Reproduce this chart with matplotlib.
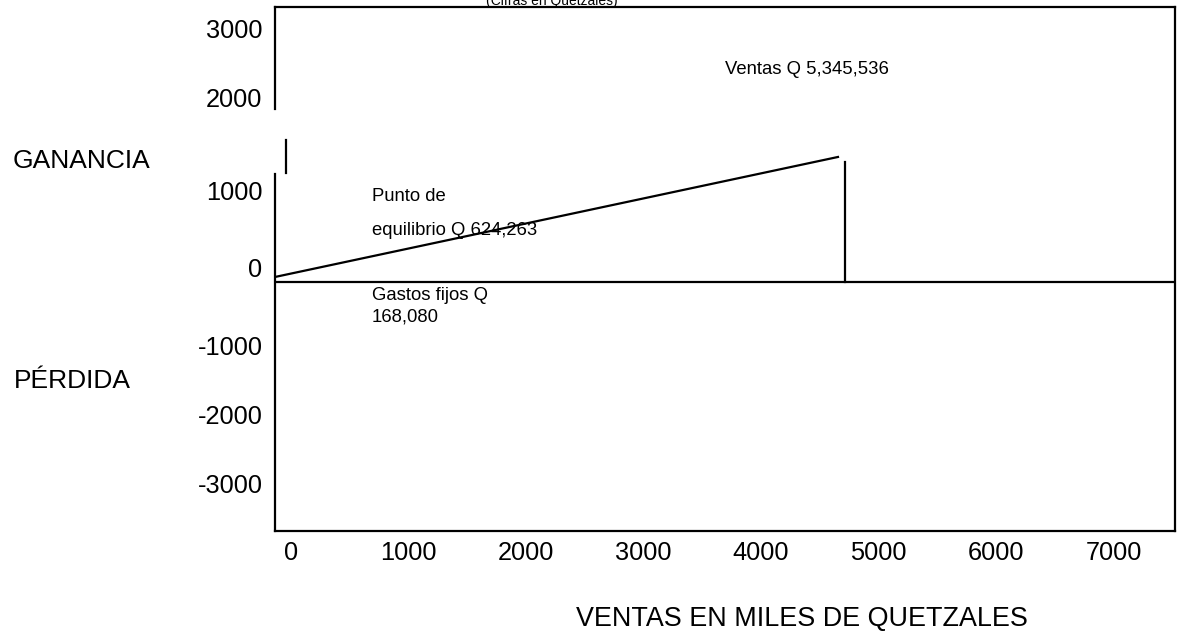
import matplotlib.pyplot as plt

plt.rcParams['font.family'] = ['Liberation Sans', 'DejaVu Sans']

# Data (miles de quetzales)
x_ticks = [0, 1000, 2000, 3000, 4000, 5000, 6000, 7000]
y_tick_labels = ["3000", "2000", "1000", "0", "-1000", "-2000", "-3000"]
y_tick_pos = [3340, 2430, 1210, 185, -830, -1740, -2650]   # hand-placed in the original

profit_x = [-136, 4655]
profit_y = [66, 1645]
ventas_x = 4715
ventas_top = 1579
base_y = 0

xlim = (-136, 7523)
ylim = (-3276, 3618)

W, H = 1177, 632
fig = plt.figure(figsize=(W / 100, H / 100), dpi=100)
ax = fig.add_axes([275 / W, 1 - 531 / H, 900 / W, 524 / H])
ax.set_xlim(*xlim)
ax.set_ylim(*ylim)

for s in ['top', 'right', 'bottom']:
    ax.spines[s].set_linewidth(1.6)
ax.spines['left'].set_visible(False)

# broken left axis, as in the original drawing
lw = 1.6
ax.plot([xlim[0], xlim[0]], [ylim[1], 2276], color='black', lw=lw, clip_on=False)
ax.plot([-42, -42], [1868, 1434], color='black', lw=lw, clip_on=False)
ax.plot([xlim[0], xlim[0]], [1421, ylim[0]], color='black', lw=lw, clip_on=False)

# lines
ax.plot(xlim, [base_y, base_y], color='black', lw=lw)
ax.plot(profit_x, profit_y, color='black', lw=lw)
ax.plot([ventas_x, ventas_x], [base_y, ventas_top], color='black', lw=lw)

ax.set_xticks(x_ticks, [str(v) for v in x_ticks])
ax.set_yticks(y_tick_pos, y_tick_labels)
ax.tick_params(axis='x', length=0, pad=7, labelsize=18.3)
ax.tick_params(axis='y', length=0, pad=9, labelsize=18.3)

# annotations
small = 13.3
ax.text(3693, 2737, "Ventas Q 5,345,536", fontsize=small, va='baseline')
ax.text(690, 1066, "Punto de", fontsize=small, va='baseline')
ax.text(690, 618, "equilibrio Q 624,263", fontsize=small, va='baseline')
ax.text(690, -237, "Gastos fijos Q", fontsize=small, va='baseline')
ax.text(690, -526, "168,080", fontsize=small, va='baseline')

fig.text(13 / W, 1 - 168 / H, "GANANCIA", fontsize=19, va='baseline')
fig.text(14 / W, 1 - 388 / H, "PÉRDIDA", fontsize=19, va='baseline')
fig.text(802 / W, 1 - 626 / H, "VENTAS EN MILES DE QUETZALES", fontsize=19.4,
         va='baseline', ha='center')
fig.text(552 / W, 1 - 5 / H, "(Cifras en Quetzales)", fontsize=10,
         va='baseline', ha='center')

fig.savefig('out.png', dpi=100)
